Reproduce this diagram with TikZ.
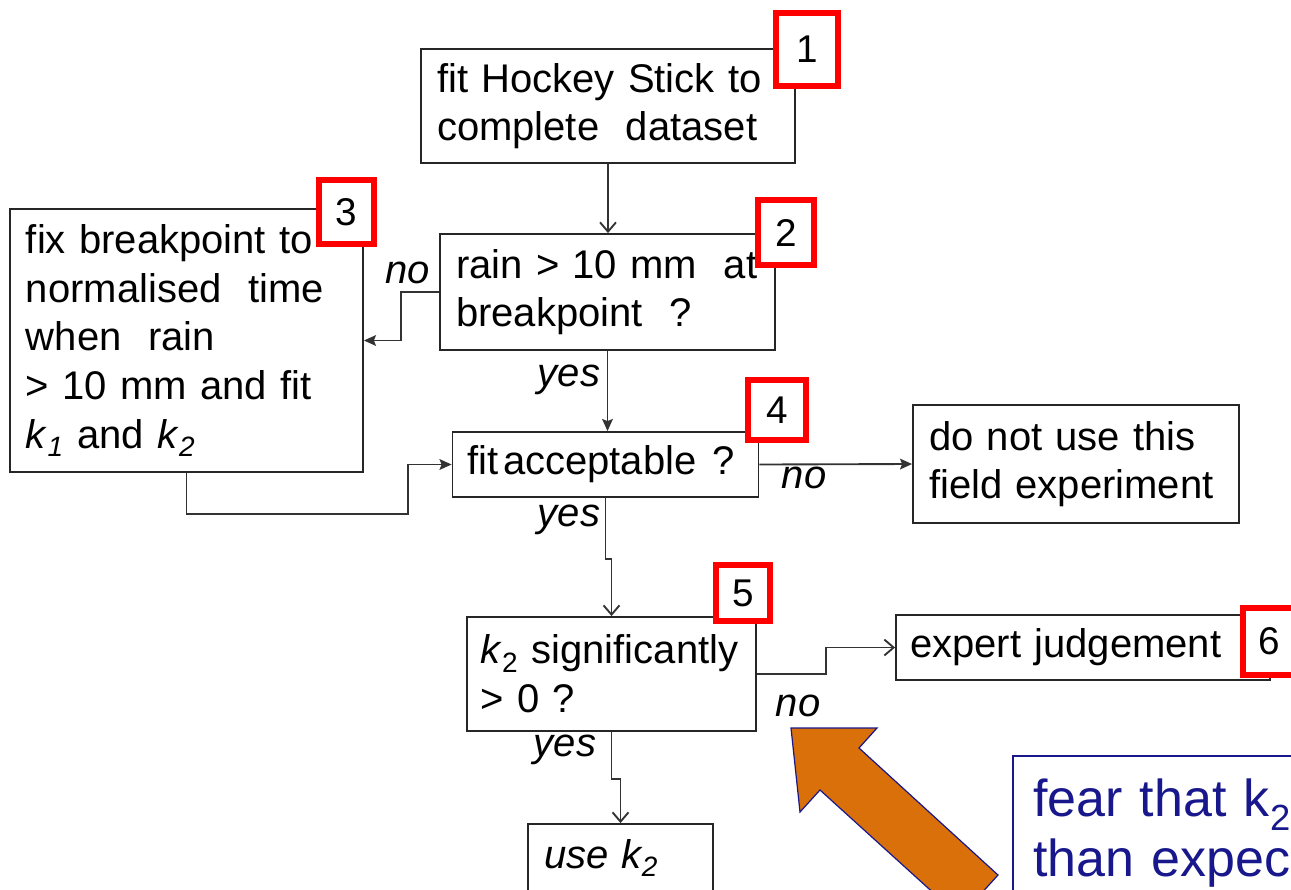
\documentclass[tikz,border=0pt]{standalone}
\usepackage{fontspec}
\setmainfont{Liberation Sans}
\usetikzlibrary{arrows.meta}
\definecolor{navy}{RGB}{24,24,140}
\definecolor{orng}{RGB}{217,112,10}
\begin{document}
\begin{tikzpicture}[x=0.75pt,y=-0.75pt,
 box/.style={draw=black!85, line width=1.4pt, fill=white, inner xsep=12pt, inner ysep=0pt, align=left, font=\fontsize{30}{36.5}\selectfont},
 num/.style={draw=red, line width=4.5pt, fill=white, inner sep=0pt, font=\fontsize{29}{29}\selectfont},
 lbl/.style={inner sep=0pt, font=\fontsize{30}{30}\selectfont\itshape},
 conn/.style={draw=black!80, line width=1.4pt},
 fa/.style={conn, -{Stealth[length=9pt,width=8pt,inset=1.5pt]}},
 oa/.style={conn, -{Straight Barb[length=7pt,width=12pt]}},
]
\useasboundingbox (0,0) rectangle (1291,889);

% orange pointer arrow
\filldraw[fill=orng, draw=navy, line width=0.9pt] (791,728) -- (877,728) -- (859,748) -- (998,875) -- (960,917) -- (820,790) -- (800,812) -- cycle;

% boxes
\node[box, text width=256.5pt, minimum height=85.5pt] (b1) at (608,106) {fit Hockey Stick to\\complete\ \ dataset};
\node[box, text width=227.25pt, minimum height=87pt] (b2) at (607.5,292) {rain > 10 mm\ \ at\\breakpoint\ \ ?};
\node[box, text width=240.75pt, minimum height=197.25pt] (b3) at (186.5,340.5) {fix breakpoint to\\normalised\ \ time\\when\ \ rain\\> 10 mm and fit\\\textit{k}\textsubscript{\textit{1}} and \textit{k}\textsubscript{\textit{2}}};
\node[box, inner xsep=11pt, text width=207.5pt, minimum height=48.75pt] (b4) at (605.5,464.5) {\mbox{fit\kern0.12em acceptable\kern0.4em ?}};
\node[box, text width=220.5pt, minimum height=88.5pt] (bd) at (1076,464) {do not use this\\field experiment};
\node[box, inner xsep=10pt, text width=196.75pt, minimum height=85.5pt] (b5) at (611.5,674) {\textit{k}\textsubscript{2} significantly\\> 0 ?};
\node[box, inner xsep=10.5pt, text width=259.5pt, minimum height=48.75pt] (b6) at (1083,647.5) {expert judgement};
\node[box, text width=114.75pt, minimum height=51pt] (bu) at (620.5,858) {\textit{use k\textsubscript{2}}};

% red number tags
\node[num, minimum width=46.5pt, minimum height=54.75pt] (r1) at (807,49.5) {1};
\node[num, minimum width=42pt, minimum height=48.75pt] (r2) at (786,232.5) {2};
\node[num, minimum width=41.25pt, minimum height=48pt] (r3) at (346.5,212) {3};
\node[num, minimum width=43.5pt, minimum height=45pt] (r4) at (777,410) {4};
\node[num, minimum width=40.5pt, minimum height=42pt] (r5) at (743,593) {5};
\node[num, minimum width=39.75pt, minimum height=50.25pt] (r6) at (1269.5,641.5) {6};

% connectors
\draw[oa] (b1.south) -- (b1.south |- b2.north);
\draw[fa] (b2.west) -- ++(-38,0) |- (b3.east);
\draw[fa] (b2.south) -- (b2.south |- b4.north);
\draw[fa] (b3.south) -- ++(0,41) -| ([xshift=-33pt]b4.west) -- (b4.west);
\draw[fa] (b4.east) -- (bd.west);
\draw[oa] (b4.south) -- ++(0,61) -| (b5.north);
\draw[oa] (b5.east) -- ++(69,0) |- (b6.west);
\draw[oa] (b5.south) -- ++(0,47) -| (bu.north);

% labels
\node[lbl] (n23) at (408,273) {no};
\node[lbl] (y24) at (569,380) {yes};
\node[lbl] (n4d) at (804,478) {no};
\node[lbl] (y45) at (569,520) {yes};
\node[lbl] (n56) at (798,706) {no};
\node[lbl] (y5u) at (565,750) {yes};

% callout
\node[draw=navy, line width=1.5pt, text=navy, anchor=north west, inner xsep=15pt, inner ysep=17pt, text width=260pt, align=left, font=\fontsize{39}{45}\selectfont] (call) at (1012,755) {fear that k\textsubscript{2}\\than expec};
\end{tikzpicture}
\end{document}
